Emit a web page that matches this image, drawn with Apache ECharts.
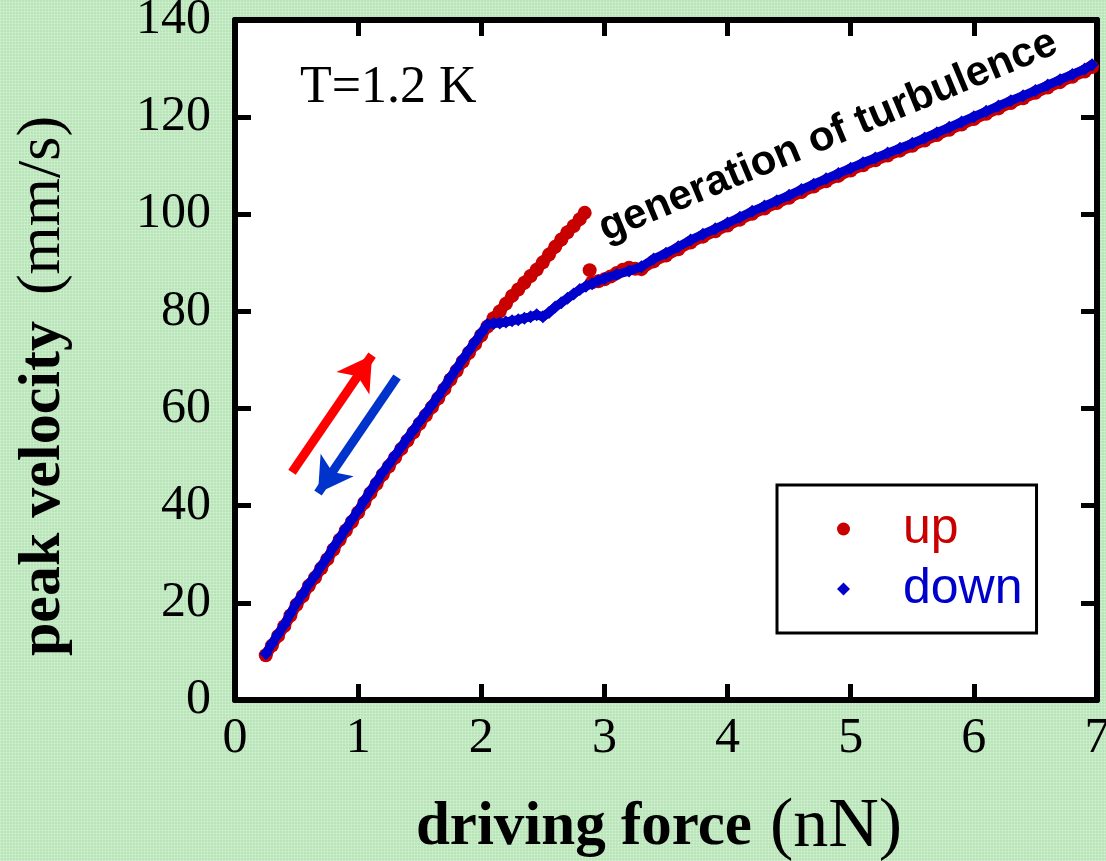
<!DOCTYPE html>
<html>
<head>
<meta charset="utf-8">
<script src="https://cdn.jsdelivr.net/npm/echarts@6/dist/echarts.min.js"></script>
<style>
html,body{margin:0;padding:0;}
body{
  width:1106px;height:861px;overflow:hidden;
  background-color:#b7e5b7;
  background-image:
    repeating-linear-gradient(0deg, rgba(255,255,255,0.22) 0 1px, transparent 1px 3px),
    repeating-linear-gradient(90deg, rgba(255,255,255,0.22) 0 1px, transparent 1px 3px);
}
#chart{width:1106px;height:861px;}
</style>
</head>
<body>
<div id="chart"></div>
<script>
// ---- data ----
const xTicks = [0, 1, 2, 3, 4, 5, 6, 7];
const yTicks = [0, 20, 40, 60, 80, 100, 120, 140];

// "up" sweep (increasing force); null = gap in the trace
const upForce = [
  0.25,0.30,0.35,0.40,0.45,0.50,0.55,0.60,0.65,0.70,0.75,0.80,0.85,0.90,0.95,
  1.00,1.05,1.10,1.15,1.20,1.25,1.30,1.35,1.40,1.45,1.50,1.55,1.60,1.65,1.70,
  1.75,1.80,1.85,1.90,1.95,2.00,2.05,
  2.10,2.15,2.20,2.25,2.30,2.35,2.40,2.45,2.50,2.55,2.60,2.65,2.70,2.75,2.80,2.84,
  2.86,2.88,2.89,
  2.90,2.95,3.00,3.05,3.10,3.15,3.20,3.25,3.30,3.40,3.50,3.60,3.70,3.80,3.90,
  4.00,4.10,4.20,4.30,4.40,4.50,4.60,4.70,4.80,4.90,5.00,5.10,5.20,5.30,5.40,
  5.50,5.60,5.70,5.80,5.90,6.00,6.10,6.20,6.30,6.40,6.50,6.60,6.70,6.80,6.90,6.96
];
const upVelocity = [
  9.2,11.2,13.2,15.2,17.4,19.6,21.4,23.5,25.2,27.1,29.0,31.0,33.0,34.9,36.7,
  38.6,40.6,42.6,44.5,46.4,48.1,49.9,51.7,53.4,55.1,56.9,58.6,60.3,62.1,64.0,
  66.0,67.8,69.7,71.5,73.3,75.1,76.9,
  78.6,80.0,81.6,83.2,84.5,85.9,87.3,88.6,90.1,91.7,93.3,94.8,96.3,97.6,99.0,100.3,
  null,88.5,null,
  86.0,86.2,86.6,87.2,87.9,88.6,89.0,88.8,88.7,90.3,91.5,92.8,94.2,95.4,96.5,
  97.7,98.9,100.1,101.2,102.3,103.4,104.6,105.7,106.8,107.9,109.0,110.1,111.1,112.1,113.1,
  114.1,115.2,116.3,117.4,118.5,119.6,120.7,121.8,122.9,123.9,125.0,126.1,127.2,128.3,129.4,130.3
];

// "down" sweep (decreasing force), listed in ascending force
const downForce = [
  0.25,0.30,0.35,0.40,0.45,0.50,0.55,0.60,0.65,0.70,0.75,0.80,0.85,0.90,0.95,
  1.00,1.05,1.10,1.15,1.20,1.25,1.30,1.35,1.40,1.45,1.50,1.55,1.60,1.65,1.70,
  1.75,1.80,1.85,1.90,1.95,2.00,2.05,
  2.10,2.15,2.20,2.25,2.30,2.35,2.40,2.45,2.50,2.55,2.60,2.65,2.70,2.75,2.80,2.85,
  2.90,2.95,3.00,3.10,3.20,3.30,3.40,3.50,3.60,3.70,3.80,3.90,
  4.00,4.10,4.20,4.30,4.40,4.50,4.60,4.70,4.80,4.90,5.00,5.10,5.20,5.30,5.40,
  5.50,5.60,5.70,5.80,5.90,6.00,6.10,6.20,6.30,6.40,6.50,6.60,6.70,6.80,6.90,6.96
];
const downVelocity = [
  9.5,11.6,13.6,15.5,17.8,20.0,21.8,23.9,25.6,27.6,29.4,31.5,33.4,35.3,37.2,
  39.0,41.1,43.1,45.0,46.9,48.6,50.4,52.1,53.9,55.6,57.4,59.1,60.8,62.6,64.5,
  66.5,68.3,70.2,72.0,73.8,75.6,77.3,
  77.5,77.6,77.8,78.1,78.3,78.6,78.9,79.3,78.9,79.8,80.9,81.8,82.7,83.6,84.5,85.2,
  85.7,86.3,86.8,87.6,88.3,89.2,90.8,92.0,93.3,94.7,95.9,97.0,
  98.2,99.4,100.6,101.7,102.8,103.9,105.1,106.2,107.3,108.4,109.5,110.6,111.6,112.6,113.6,
  114.6,115.7,116.8,117.9,119.0,120.1,121.2,122.3,123.4,124.4,125.5,126.6,127.7,128.8,129.9,130.8
];

const seriesNames = ['up', 'down'];
const tempLabel = 'T=1.2 K';
const noteLabel = 'generation of turbulence';

// ---- build ----
const toPairs = (xs, ys) => xs.map((x, i) => [x, ys[i] === null ? '-' : ys[i]]);

const RED = '#c80000', BLUE = '#0000cc';
const serif = '"Liberation Serif", "Times New Roman", serif';
const sans = '"Liberation Sans", Arial, sans-serif';

const axisCommon = {
  type: 'value',
  axisLine: { show: true, onZero: false, lineStyle: { color: '#000', width: 6 } },
  axisTick: { show: true, inside: true, length: 16, lineStyle: { color: '#000', width: 5 } },
  splitLine: { show: false }
};

const chart = echarts.init(document.getElementById('chart'), null, { renderer: 'canvas' });
chart.setOption({
  animation: false,
  backgroundColor: 'transparent',
  grid: { left: 235, right: 9, top: 20, bottom: 161, outerBoundsMode: 'none', containLabel: false,
          show: true, backgroundColor: '#fff', borderWidth: 0 },
  xAxis: [
    Object.assign({}, axisCommon, {
      position: 'bottom', min: xTicks[0], max: xTicks[xTicks.length - 1], interval: 1,
      axisLabel: { margin: 14, fontFamily: serif, fontSize: 50, color: '#000' },
      name: '{b|driving force}{s|}{r|(nN)}', nameLocation: 'middle', nameGap: 96,
      nameTextStyle: { padding: [0, 14, 0, 0], rich: {
        b: { fontFamily: serif, fontWeight: 'bold', fontSize: 61, color: '#000', lineHeight: 64 },
        s: { width: 18, lineHeight: 64 },
        r: { fontFamily: serif, fontSize: 70, color: '#000', lineHeight: 64 }
      } }
    }),
    Object.assign({}, axisCommon, {
      position: 'top', min: xTicks[0], max: xTicks[xTicks.length - 1], interval: 1,
      axisLabel: { show: false }
    })
  ],
  yAxis: [
    Object.assign({}, axisCommon, {
      position: 'left', min: yTicks[0], max: yTicks[yTicks.length - 1], interval: 20,
      axisLabel: { margin: 24, fontFamily: serif, fontSize: 50, color: '#000' },
      name: '{b|peak velocity}{s|}{r|(mm/s)}', nameLocation: 'middle', nameGap: 162,
      nameTextStyle: { padding: [0, 52, 0, 0], rich: {
        b: { fontFamily: serif, fontWeight: 'bold', fontSize: 60, color: '#000', lineHeight: 60 },
        s: { width: 26, lineHeight: 60 },
        r: { fontFamily: serif, fontSize: 62, color: '#000', lineHeight: 60 }
      } }
    }),
    Object.assign({}, axisCommon, {
      position: 'right', min: yTicks[0], max: yTicks[yTicks.length - 1], interval: 20,
      axisLabel: { show: false }
    })
  ],
  legend: {
    orient: 'vertical', left: 777, top: 485,
    backgroundColor: '#fff', borderColor: '#000', borderWidth: 3, borderRadius: 0,
    padding: [18, 14, 18, 60],
    itemWidth: 13, itemHeight: 13, itemGap: 8, symbolKeepAspect: true,
    selectedMode: false,
    textStyle: { fontFamily: sans, fontSize: 50, lineHeight: 52, padding: [0, 0, 0, 48] },
    data: [
      { name: seriesNames[0], icon: 'circle', textStyle: { color: RED } },
      { name: seriesNames[1], icon: 'diamond', textStyle: { color: BLUE } }
    ]
  },
  series: [
    {
      name: seriesNames[0], type: 'line', xAxisIndex: 0, yAxisIndex: 0,
      data: toPairs(upForce, upVelocity), connectNulls: false,
      symbol: 'circle', symbolSize: 14, showSymbol: true,
      itemStyle: { color: RED }, lineStyle: { color: RED, width: 11 },
      emphasis: { disabled: true }, silent: true, z: 3,
      markLine: {
        silent: true, symbol: ['none', 'arrow'], symbolSize: [30, 34],
        label: { show: false }, emphasis: { disabled: true },
        lineStyle: { color: '#ff0000', width: 9, type: 'solid' },
        data: [[{ coord: [0.463, 46.9] }, { coord: [1.113, 71.0] }]]
      }
    },
    {
      name: seriesNames[1], type: 'line', xAxisIndex: 0, yAxisIndex: 0,
      data: toPairs(downForce, downVelocity),
      symbol: 'diamond', symbolSize: 13, showSymbol: true,
      itemStyle: { color: BLUE }, lineStyle: { color: BLUE, width: 9 },
      emphasis: { disabled: true }, silent: true, z: 4,
      markLine: {
        silent: true, symbol: ['none', 'arrow'], symbolSize: [30, 34],
        label: { show: false }, emphasis: { disabled: true },
        lineStyle: { color: '#0033cc', width: 9, type: 'solid' },
        data: [[{ coord: [1.316, 66.5] }, { coord: [0.674, 42.6] }]]
      }
    }
  ],
  graphic: [
    {
      type: 'text', left: 300, top: 62, silent: true,
      style: { text: tempLabel, fontFamily: serif, fontSize: 52, fill: '#000' }
    },
    {
      type: 'text', x: 828, y: 136, rotation: 22.6 * Math.PI / 180, silent: true,
      style: { text: noteLabel, fontFamily: sans, fontWeight: 'bold', fontSize: 42, fill: '#000',
               align: 'center', verticalAlign: 'middle' }
    }
  ]
});
</script>
</body>
</html>
